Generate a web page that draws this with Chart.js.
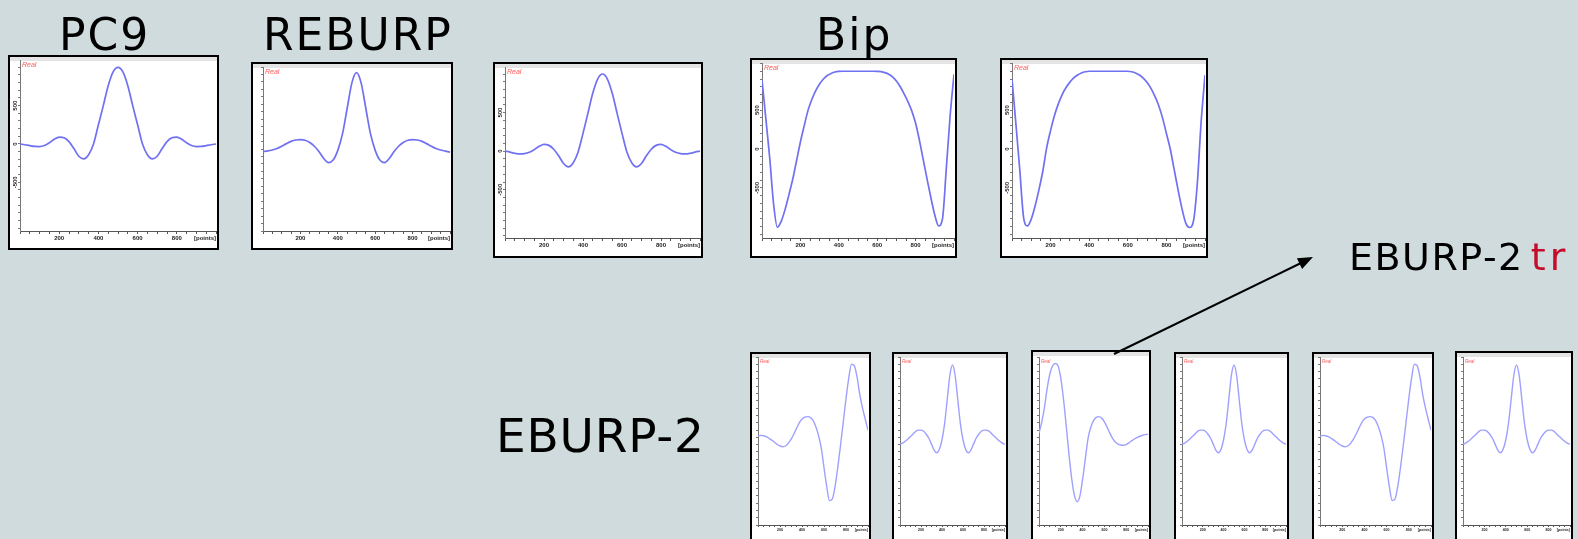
<!DOCTYPE html>
<html><head><meta charset="utf-8">
<script src="https://cdn.jsdelivr.net/npm/chart.js@4.4.1/dist/chart.umd.min.js"></script>
<style>
html,body{margin:0;padding:0;}
body{width:1578px;height:539px;overflow:hidden;background:#cfdbdd;position:relative;}
.box{position:absolute;box-sizing:border-box;border:2px solid #000;background:linear-gradient(#e4e4e4 0,#e4e4e4 4px,#fff 4px);}
.box canvas{display:block;}
#overlay{position:absolute;left:0;top:0;pointer-events:none;}
</style></head><body>
<div id="panels"></div>
<svg id="overlay" width="1578" height="539" xmlns="http://www.w3.org/2000/svg">
  <g font-family="DejaVu Sans" fill="#000">
    <text x="59" y="50" font-size="44" letter-spacing="2">PC9</text>
    <text x="263" y="50" font-size="44" letter-spacing="2">REBURP</text>
    <text x="816" y="50" font-size="44" letter-spacing="2">Bip</text>
    <text x="496" y="452" font-size="47" letter-spacing="0.8">EBURP-2</text>
    <text x="1349" y="270" font-size="38" letter-spacing="1.5">EBURP-2<tspan fill="#c40d2a" dx="7" letter-spacing="4">tr</tspan></text>
  </g>
  <line x1="1114" y1="354" x2="1300" y2="263.5" stroke="#000" stroke-width="2"/>
  <polygon points="1313,257 1302.1,269 1296.9,258.2" fill="#000"/>
</svg>
<script>
// ---- data ----
const gridX41 = [0,25,50,75,100,125,150,175,200,225,250,275,300,325,350,375,400,425,450,475,500,525,550,575,600,625,650,675,700,725,750,775,800,825,850,875,900,925,950,975,1000];
const gridX51 = [0,20,40,60,80,100,120,140,160,180,200,220,240,260,280,300,320,340,360,380,400,420,440,460,480,500,520,540,560,580,600,620,640,660,680,700,720,740,760,780,800,820,840,860,880,900,920,940,960,980,1000];

const pc9 = [0,-10,-22,-32,-34,-20,15,62,90,80,30,-60,-160,-195,-140,0,250,500,760,940,1000,940,760,500,250,0,-140,-195,-160,-60,30,80,90,62,15,-20,-34,-32,-22,-10,0];
const reburp = [-55,-48,-35,-15,15,50,80,98,103,95,65,15,-60,-150,-205,-170,-40,180,520,860,1000,860,520,180,-40,-170,-205,-150,-60,15,65,95,103,98,80,50,15,-15,-35,-50,-65];
const pc9b = [0,-12,-27,-35,-32,-15,20,62,87,75,25,-60,-160,-204,-150,-10,230,490,750,935,1000,935,750,490,230,-10,-150,-204,-160,-60,25,75,87,62,20,-15,-32,-35,-27,-12,0];
const bip = [890,390,-110,-700,-1005,-930,-780,-590,-390,-150,90,300,500,640,750,835,900,945,972,990,998,1000,1000,1000,1000,1000,1000,1000,1000,1000,998,994,982,962,928,875,800,710,610,490,330,110,-140,-390,-630,-850,-990,-900,-250,430,960];
const bip2 = [900,330,-260,-880,-990,-900,-730,-520,-280,20,240,430,580,700,790,860,915,952,978,993,1000,1000,1000,1000,1000,1000,1000,1000,1000,1000,1000,993,978,952,912,855,780,680,560,400,200,0,-260,-520,-760,-950,-1010,-930,-450,350,950];
const eburp2 = [30,40,35,22,0,-25,-55,-85,-105,-115,-105,-70,-15,55,135,210,262,290,295,285,245,160,40,-130,-400,-660,-850,-830,-660,-400,-100,220,540,820,1010,990,840,600,415,260,110];
const narrowB = [-80,-65,-40,-10,25,60,95,112,112,95,55,0,-80,-160,-198,-150,-20,200,530,860,1000,860,530,200,-20,-150,-198,-160,-80,0,55,95,112,112,95,60,25,-10,-40,-65,-80];
const eburp2tr = [70,220,420,680,880,990,1020,990,820,530,165,-220,-550,-780,-865,-790,-560,-280,0,150,240,285,295,275,225,150,70,0,-50,-80,-92,-95,-85,-62,-35,-10,10,28,42,50,55];

const xTickValues = [200,400,600,800,1000];
const xTickTexts = ['200','400','600','800','[points]'];
const yTickValues = [500,0,-500];
const yTickTexts = ['500','0','-500'];

// ---- layout ----
const TOP = {axisW:10, padTop:3, color:'#7070f2', lw:1.7, xfs:6, yfs:6, realSize:7, ypad:-3, tick:3};
const BOT = {axisW:6, color:'#a0a0ff', lw:1.4, xfs:3.6, yfs:5, realSize:4.5, ypad:-4, tick:2, yMin:-1183, yMax:1109, axisH:18};
const panels = [
  Object.assign({}, TOP, {x:8,   y:55, w:211, h:195, axisH:17, yMin:-1135, yMax:1095, xs:gridX41, ys:pc9}),
  Object.assign({}, TOP, {x:251, y:62, w:202, h:188, axisH:17, yMin:-1120, yMax:1076, xs:gridX41, ys:reburp}),
  Object.assign({}, TOP, {x:493, y:62, w:210, h:196, axisH:18, yMin:-1126, yMax:1091, xs:gridX41, ys:pc9b}),
  Object.assign({}, TOP, {x:750, y:58, w:207, h:200, axisH:18, yMin:-1145, yMax:1106, xs:gridX51, ys:bip}),
  Object.assign({}, TOP, {x:1000,y:58, w:208, h:200, axisH:18, yMin:-1145, yMax:1106, xs:gridX51, ys:bip2}),
  Object.assign({}, BOT, {x:750, y:352, w:121, h:193, xs:gridX41, ys:eburp2}),
  Object.assign({}, BOT, {x:892, y:352, w:116, h:193, xs:gridX41, ys:narrowB}),
  Object.assign({}, BOT, {x:1031,y:350, w:120, h:195, xs:gridX41, ys:eburp2tr}),
  Object.assign({}, BOT, {x:1174,y:352, w:115, h:193, xs:gridX41, ys:narrowB}),
  Object.assign({}, BOT, {x:1312,y:352, w:122, h:193, xs:gridX41, ys:eburp2}),
  Object.assign({}, BOT, {x:1455,y:351, w:118, h:194, xs:gridX41, ys:narrowB})
];
panels.forEach(p => { if (p.padTop === undefined) p.padTop = 357 - (p.y + 2); });

const xLabelMap = {}; xTickValues.forEach((v,i)=>xLabelMap[v]=xTickTexts[i]);
const yLabelMap = {}; yTickValues.forEach((v,i)=>yLabelMap[v]=yTickTexts[i]);

const realLabel = {
  id:'realLabel',
  afterDraw(chart, args, opts){
    const {ctx, chartArea} = chart;
    ctx.save();
    ctx.fillStyle = '#ff5a5a';
    ctx.font = 'italic ' + opts.size + 'px "Liberation Sans"';
    ctx.textBaseline = 'top';
    ctx.textAlign = 'left';
    ctx.fillText('Real', chartArea.left + 2, chartArea.top + 2);
    ctx.restore();
  }
};

const host = document.getElementById('panels');
panels.forEach(p => {
  const box = document.createElement('div');
  box.className = 'box';
  box.style.left = p.x + 'px'; box.style.top = p.y + 'px';
  box.style.width = p.w + 'px'; box.style.height = p.h + 'px';
  const cv = document.createElement('canvas');
  cv.width = p.w - 4; cv.height = p.h - 4;
  cv.style.width = (p.w - 4) + 'px'; cv.style.height = (p.h - 4) + 'px';
  box.appendChild(cv);
  host.appendChild(box);
  const pts = p.xs.map((x,i)=>({x:x, y:p.ys[i]}));
  new Chart(cv, {
    type:'line',
    data:{datasets:[{data:pts, borderColor:p.color, borderWidth:p.lw, pointRadius:0, fill:false, cubicInterpolationMode:'monotone'}]},
    options:{
      responsive:false, animation:false, events:[], devicePixelRatio:1,
      layout:{padding:{top:p.padTop, left:0, right:0, bottom:0}},
      plugins:{legend:{display:false}, tooltip:{enabled:false}, realLabel:{size:p.realSize}},
      scales:{
        x:{type:'linear', min:0, max:1000,
           afterFit:s=>{s.height = p.axisH;},
           border:{display:true, color:'#555', width:1},
           grid:{drawOnChartArea:false, drawTicks:true, tickLength:p.tick, color:'#555'},
           ticks:{stepSize:50, maxTicksLimit:1000, autoSkip:false, minRotation:0, maxRotation:0, align:'inner', padding:1,
                  font:{size:p.xfs, weight:'bold', family:'"Liberation Sans"'}, color:'#222',
                  callback:v=> (xLabelMap[v] !== undefined ? xLabelMap[v] : '')}},
        y:{type:'linear', min:p.yMin, max:p.yMax,
           afterFit:s=>{s.width = p.axisW;},
           border:{display:true, color:'#777', width:1},
           grid:{drawOnChartArea:false, drawTicks:true, tickLength:2, color:'#777'},
           ticks:{stepSize:100, maxTicksLimit:1000, includeBounds:false, autoSkip:false, minRotation:90, maxRotation:90,
                  crossAlign:'center', padding:p.ypad, font:{size:p.yfs, weight:'bold', family:'"Liberation Sans"'}, color:'#222',
                  callback:v=> (yLabelMap[v] !== undefined ? yLabelMap[v] : '')}}
      }
    },
    plugins:[realLabel]
  });
});
</script>
</body></html>
